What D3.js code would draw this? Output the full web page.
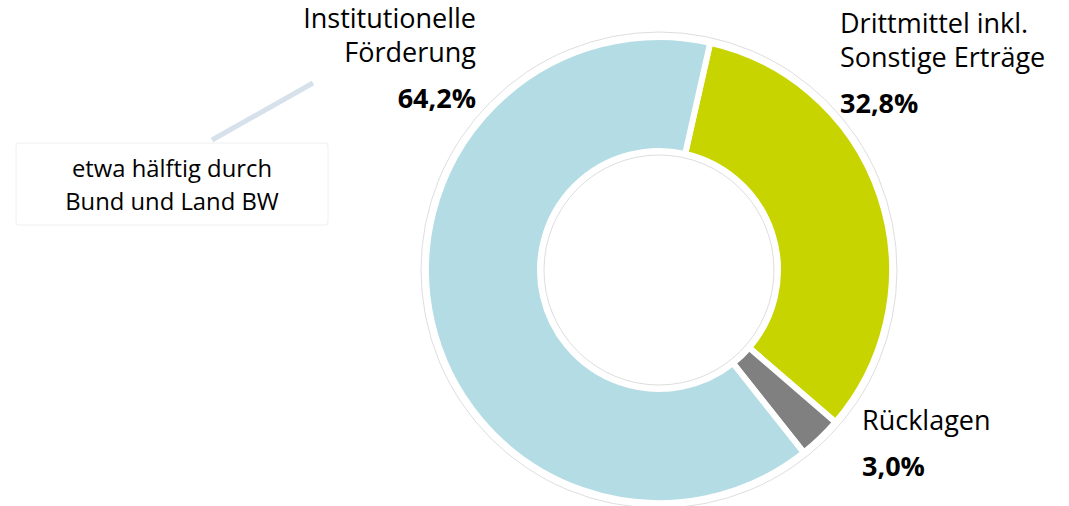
<!DOCTYPE html>
<html>
<head>
<meta charset="utf-8">
<script src="https://cdn.jsdelivr.net/npm/d3@7"></script>
<style>
  body { margin: 0; background: #fff; }
  text { font-family: "Open Sans", "Noto Sans", sans-serif; fill: #000; }
</style>
</head>
<body>
<svg id="chart" width="1069" height="506"></svg>
<script>
// data
const categories = ["Drittmittel inkl. Sonstige Erträge", "Rücklagen", "Institutionelle Förderung"];
const values = [32.8, 3.0, 64.2];
const valueLabels = ["32,8%", "3,0%", "64,2%"];
const colors = ["#c8d400", "#808080", "#b4dce4"];
const noteLines = ["etwa hälftig durch", "Bund und Land BW"];

const width = 1069, height = 506;
const cx = 659, cy = 270;
const outerR = 233, innerR = 119;

let svg = d3.select("#chart");

let pie = d3.pie()
    .sort(null)
    .value(d => d.v)
    .startAngle(12.7 * Math.PI / 180)
    .endAngle(12.7 * Math.PI / 180 + 2 * Math.PI);

let arc = d3.arc().innerRadius(innerR).outerRadius(outerR);

let dataset = categories.map((c, i) => ({ c: c, v: values[i], col: colors[i] }));

let g = svg.append("g").attr("transform", "translate(" + cx + "," + cy + ")");

// thin rings around the donut
g.append("circle").attr("r", 238).attr("fill", "none").attr("stroke", "#dedede").attr("stroke-width", 1);

g.selectAll("path.slice")
    .data(pie(dataset))
    .enter()
    .append("path")
    .attr("class", "slice")
    .attr("d", arc)
    .attr("fill", d => d.data.col)
    .attr("stroke", "#fff")
    .attr("stroke-width", 6);

g.append("circle").attr("r", 115).attr("fill", "none").attr("stroke", "#dedede").attr("stroke-width", 1);

// labels
const fs = 27;
function label(x, y, lines, pct, anchor, gap) {
    let t = svg.append("g");
    lines.forEach((l, i) => {
        t.append("text").attr("x", x).attr("y", y + i * 34)
            .attr("text-anchor", anchor).attr("font-size", fs).text(l);
    });
    t.append("text").attr("x", x).attr("y", y + (lines.length - 1) * 34 + gap)
        .attr("text-anchor", anchor).attr("font-size", fs).attr("font-weight", "bold").text(pct);
}

label(476, 28, ["Institutionelle", "Förderung"], valueLabels[2], "end", 46);
label(840, 33, ["Drittmittel inkl.", "Sonstige Erträge"], valueLabels[0], "start", 46);
label(862, 430, ["Rücklagen"], valueLabels[1], "start", 46);

// note box with connector
svg.append("line")
    .attr("x1", 212).attr("y1", 140).attr("x2", 313).attr("y2", 83)
    .attr("stroke", "#d6e1ec").attr("stroke-width", 5);

svg.append("rect")
    .attr("x", 16).attr("y", 143).attr("width", 312).attr("height", 82)
    .attr("rx", 3)
    .attr("fill", "#fff").attr("stroke", "#f0f0f0").attr("stroke-width", 1);

noteLines.forEach((l, i) => {
    svg.append("text").attr("x", 172).attr("y", 177 + i * 33)
        .attr("text-anchor", "middle").attr("font-size", 23.8).text(l);
});
</script>
</body>
</html>
